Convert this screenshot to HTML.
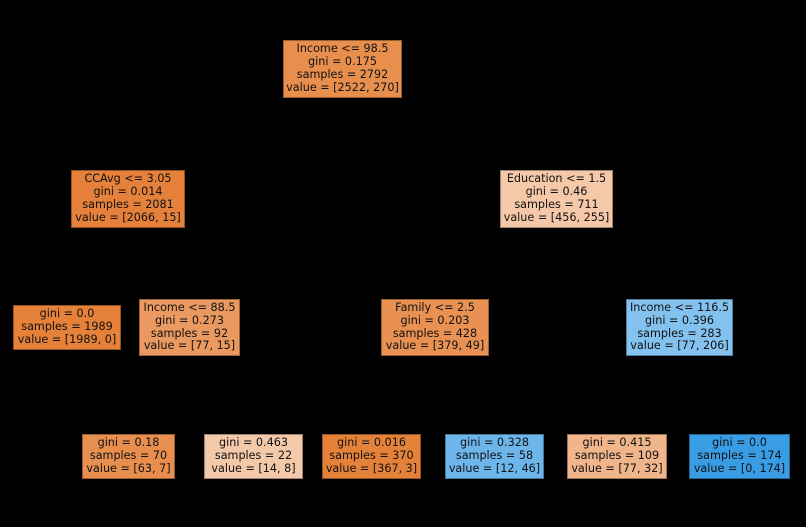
<!DOCTYPE html>
<html><head><style>
html,body{margin:0;padding:0;background:#000;}
body{width:806px;height:527px;position:relative;overflow:hidden;font-family:"DejaVu Sans","Liberation Sans",sans-serif;}
.n{position:absolute;box-sizing:border-box;border:1px solid rgba(0,0,0,0.35);display:flex;justify-content:center;align-items:center;font-size:11.2px;line-height:12.8px;color:#111;white-space:nowrap;text-align:center;}
</style></head><body>
<div class="n" style="left:283px;top:40px;width:119px;height:58px;background:#e88f4e"><div>Income &lt;= 98.5<br>gini = 0.175<br>samples = 2792<br>value = [2522, 270]</div></div>
<div class="n" style="left:71px;top:170px;width:114px;height:58px;background:#e5813a"><div>CCAvg &lt;= 3.05<br>gini = 0.014<br>samples = 2081<br>value = [2066, 15]</div></div>
<div class="n" style="left:500px;top:170px;width:113px;height:58px;background:#f4c8a8"><div>Education &lt;= 1.5<br>gini = 0.46<br>samples = 711<br>value = [456, 255]</div></div>
<div class="n" style="left:13px;top:305px;width:108px;height:45px;background:#e58139"><div>gini = 0.0<br>samples = 1989<br>value = [1989, 0]</div></div>
<div class="n" style="left:139px;top:299px;width:101px;height:57px;background:#ea9a60"><div>Income &lt;= 88.5<br>gini = 0.273<br>samples = 92<br>value = [77, 15]</div></div>
<div class="n" style="left:381px;top:299px;width:108px;height:57px;background:#e89152"><div>Family &lt;= 2.5<br>gini = 0.203<br>samples = 428<br>value = [379, 49]</div></div>
<div class="n" style="left:626px;top:299px;width:107px;height:57px;background:#83c2ef"><div>Income &lt;= 116.5<br>gini = 0.396<br>samples = 283<br>value = [77, 206]</div></div>
<div class="n" style="left:82px;top:434px;width:93px;height:45px;background:#e88f4f"><div>gini = 0.18<br>samples = 70<br>value = [63, 7]</div></div>
<div class="n" style="left:204px;top:434px;width:99px;height:45px;background:#f4c9aa"><div>gini = 0.463<br>samples = 22<br>value = [14, 8]</div></div>
<div class="n" style="left:322px;top:434px;width:99px;height:45px;background:#e5823a"><div>gini = 0.016<br>samples = 370<br>value = [367, 3]</div></div>
<div class="n" style="left:445px;top:434px;width:99px;height:45px;background:#6db6ec"><div>gini = 0.328<br>samples = 58<br>value = [12, 46]</div></div>
<div class="n" style="left:567px;top:434px;width:100px;height:45px;background:#f0b58b"><div>gini = 0.415<br>samples = 109<br>value = [77, 32]</div></div>
<div class="n" style="left:689px;top:434px;width:101px;height:45px;background:#399de5"><div>gini = 0.0<br>samples = 174<br>value = [0, 174]</div></div>
</body></html>
